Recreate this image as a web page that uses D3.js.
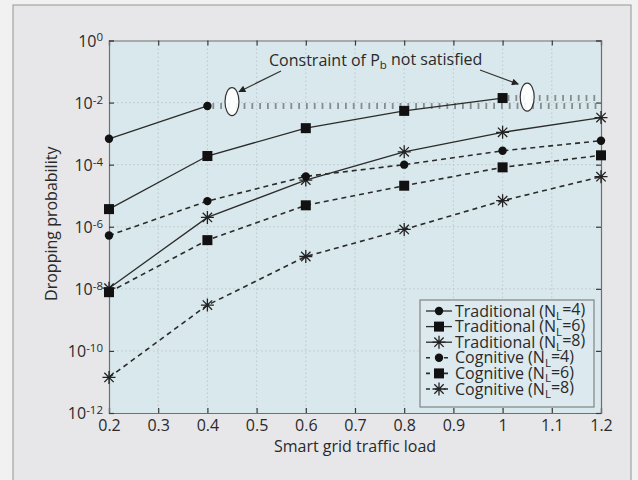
<!DOCTYPE html>
<html>
<head>
<meta charset="utf-8">
<script src="https://cdn.jsdelivr.net/npm/d3@7"></script>
<style>
  html, body { margin: 0; padding: 0; background: #f1f1f2; }
  svg { display: block; }
  text { font-family: "Open Sans", "Noto Sans", sans-serif; fill: #2a2a2a; }
</style>
</head>
<body>
<svg id="chart" width="638" height="480"></svg>
<script>
// ---------------- data ----------------
const loads = [0.2, 0.4, 0.6, 0.8, 1.0, 1.2];
const xTickValues = [0.2, 0.3, 0.4, 0.5, 0.6, 0.7, 0.8, 0.9, 1.0, 1.1, 1.2];
const xTickLabels = ["0.2", "0.3", "0.4", "0.5", "0.6", "0.7", "0.8", "0.9", "1", "1.1", "1.2"];
const yTickExponents = [0, -2, -4, -6, -8, -10, -12];

const tradNL4 = [6.8e-4, 7.8e-3, null, null, null, null];
const tradNL6 = [3.7e-6, 1.9e-4, 1.5e-3, 5.4e-3, 1.4e-2, null];
const tradNL8 = [1.05e-8, 2.0e-6, 3.2e-5, 2.6e-4, 1.1e-3, 3.3e-3];
const cogNL4 = [5.2e-7, 6.7e-6, 4.2e-5, 1.0e-4, 2.8e-4, 5.9e-4];
const cogNL6 = [7.8e-9, 3.7e-7, 4.9e-6, 2.1e-5, 8.2e-5, 2.0e-4];
const cogNL8 = [1.4e-11, 3.0e-9, 1.1e-7, 8.2e-7, 6.9e-6, 4.1e-5];

const seriesLabels = ["Traditional", "Traditional", "Traditional", "Cognitive", "Cognitive", "Cognitive"];
const seriesNL = ["4", "6", "8", "4", "6", "8"];
const seriesMarkers = ["circle", "square", "star", "circle", "square", "star"];
const seriesDashed = [false, false, false, true, true, true];
const seriesValues = [tradNL4, tradNL6, tradNL8, cogNL4, cogNL6, cogNL8];

const annotationText = "Constraint of P";
const annotationSub = "b";
const annotationTail = " not satisfied";
const ellipseLoads = [0.45, 1.05];
const ellipseValues = [1.07e-2, 1.5e-2];

const xTitle = "Smart grid traffic load";
const yTitle = "Dropping probability";

// ---------------- layout ----------------
const svg = d3.select("#chart");
const M = { left: 109, right: 601, top: 40.5, bottom: 413 };

// outer panel
svg.append("rect").attr("x", 13).attr("y", 5).attr("width", 618).attr("height", 490)
  .attr("fill", "#e7e7e9").attr("stroke", "#a4a4a6").attr("stroke-width", 1.2);

const x = d3.scaleLinear().domain([0.2, 1.2]).range([M.left, M.right]);
const y = d3.scaleLog().domain([1e-12, 1]).range([M.bottom, M.top]);

// plot background
svg.append("rect").attr("x", M.left).attr("y", M.top)
  .attr("width", M.right - M.left).attr("height", M.bottom - M.top)
  .attr("fill", "#d9e8ec");

// grid
const grid = svg.append("g");
xTickValues.slice(1, -1).forEach(v => {
  grid.append("line").attr("x1", x(v)).attr("x2", x(v)).attr("y1", M.top).attr("y2", M.bottom)
    .attr("stroke", "#b9c3c6").attr("stroke-width", 0.9).attr("stroke-dasharray", "1.5,2.5");
});
yTickExponents.slice(1, -1).forEach(e => {
  grid.append("line").attr("y1", y(Math.pow(10, e))).attr("y2", y(Math.pow(10, e))).attr("x1", M.left).attr("x2", M.right)
    .attr("stroke", "#b9c3c6").attr("stroke-width", 0.9).attr("stroke-dasharray", "1.5,2.5");
});

// axes (MATLAB style ticks inward on all sides)
const tickLen = 5;
const xAxisB = d3.axisBottom(x).tickValues(xTickValues).tickSize(-tickLen).tickPadding(7)
  .tickFormat((d, i) => xTickLabels[i]);
const gxb = svg.append("g").attr("transform", `translate(0,${M.bottom})`).call(xAxisB);
gxb.selectAll("text").attr("font-size", 16).attr("fill", "#2a2a2a");
const xAxisT = d3.axisTop(x).tickValues(xTickValues).tickSize(-tickLen).tickFormat("");
const gxt = svg.append("g").attr("transform", `translate(0,${M.top})`).call(xAxisT);

const yVals = yTickExponents.map(e => Math.pow(10, e));
const yAxisL = d3.axisLeft(y).tickValues(yVals).tickSize(-tickLen).tickPadding(8).tickFormat("");
const gyl = svg.append("g").attr("transform", `translate(${M.left},0)`).call(yAxisL);
const yAxisR = d3.axisRight(y).tickValues(yVals).tickSize(-tickLen).tickFormat("");
const gyr = svg.append("g").attr("transform", `translate(${M.right},0)`).call(yAxisR);

[gxb, gxt, gyl, gyr].forEach(g => {
  g.select(".domain").attr("stroke", "#6f6f6f").attr("stroke-width", 1.2);
  g.selectAll(".tick line").attr("stroke", "#3a3a3a").attr("stroke-width", 1.2);
});

// y tick labels as 10^e
gyl.selectAll(".tick").each(function(d) {
  const e = Math.round(Math.log10(d));
  const t = d3.select(this).append("text")
    .attr("x", -6).attr("dy", "0.35em").attr("text-anchor", "end")
    .attr("font-size", 16).attr("fill", "#2a2a2a");
  t.append("tspan").text("10");
  t.append("tspan").attr("dy", "-0.45em").attr("font-size", 11.5).text(e === 0 ? "0" : "-" + Math.abs(e));
});

// ---------------- constraint dotted extensions ----------------
const dotLayer = svg.append("g");
[tradNL4, tradNL6].forEach(vals => {
  let lastIdx = -1;
  vals.forEach((v, i) => { if (v != null) lastIdx = i; });
  dotLayer.append("line")
    .attr("x1", x(loads[lastIdx]) + 5).attr("x2", x(loads[loads.length - 1]))
    .attr("y1", y(vals[lastIdx])).attr("y2", y(vals[lastIdx]))
    .attr("stroke", "#858d90").attr("stroke-width", 6).attr("stroke-dasharray", "1.8,6");
});

// ---------------- series ----------------
const line = d3.line().defined(d => d.v != null).x(d => x(d.x)).y(d => y(d.v));
const lineColor = "#2b2b2b";

function drawMarker(g, type, cx, cy) {
  if (type === "circle") {
    g.append("circle").attr("cx", cx).attr("cy", cy).attr("r", 4.2).attr("fill", "#111");
  } else if (type === "square") {
    g.append("rect").attr("x", cx - 5).attr("y", cy - 5).attr("width", 10).attr("height", 10).attr("fill", "#111");
  } else {
    const r = 6.5;
    const p = d3.path();
    p.moveTo(cx - r, cy); p.lineTo(cx + r, cy);
    p.moveTo(cx, cy - r); p.lineTo(cx, cy + r);
    const q = r * 0.72;
    p.moveTo(cx - q, cy - q); p.lineTo(cx + q, cy + q);
    p.moveTo(cx - q, cy + q); p.lineTo(cx + q, cy - q);
    g.append("path").attr("d", p.toString()).attr("stroke", "#222").attr("stroke-width", 1.3).attr("fill", "none");
  }
}

const seriesLayer = svg.append("g");
seriesValues.forEach((vals, si) => {
  const pts = loads.map((l, i) => ({ x: l, v: vals[i] }));
  seriesLayer.append("path").datum(pts).attr("d", line)
    .attr("fill", "none").attr("stroke", lineColor)
    .attr("stroke-width", seriesDashed[si] ? 1.6 : 1.3)
    .attr("stroke-dasharray", seriesDashed[si] ? "5,4" : null);
});
seriesValues.forEach((vals, si) => {
  loads.forEach((l, i) => {
    if (vals[i] != null) drawMarker(seriesLayer, seriesMarkers[si], x(l), y(vals[i]));
  });
});

// ---------------- annotation ----------------
const ann = svg.append("g");
const at = ann.append("text").attr("x", 269).attr("y", 66).attr("font-size", 16).attr("fill", "#2a2a2a");
at.append("tspan").text(annotationText);
at.append("tspan").attr("dy", "0.3em").attr("font-size", 11.5).text(annotationSub);
at.append("tspan").attr("dy", "-0.3em").text(annotationTail);

svg.append("defs").append("marker").attr("id", "arrow").attr("viewBox", "0 0 10 10")
  .attr("refX", 9).attr("refY", 5).attr("markerWidth", 9).attr("markerHeight", 7)
  .attr("markerUnits", "userSpaceOnUse").attr("orient", "auto")
  .append("path").attr("d", "M0,0 L10,5 L0,10 z").attr("fill", "#222");

const e0 = { cx: x(ellipseLoads[0]), cy: y(ellipseValues[0]) };
const e1 = { cx: x(ellipseLoads[1]), cy: y(ellipseValues[1]) };
ann.append("line").attr("x1", 281).attr("y1", 71).attr("x2", e0.cx + 7).attr("y2", e0.cy - 10)
  .attr("stroke", "#333").attr("stroke-width", 1.2).attr("marker-end", "url(#arrow)");
ann.append("line").attr("x1", 480).attr("y1", 70).attr("x2", e1.cx - 9).attr("y2", e1.cy - 13)
  .attr("stroke", "#333").attr("stroke-width", 1.2).attr("marker-end", "url(#arrow)");
[e0, e1].forEach(e => {
  ann.append("ellipse").attr("cx", e.cx).attr("cy", e.cy).attr("rx", 7).attr("ry", 14)
    .attr("fill", "#ffffff").attr("fill-opacity", 0.9).attr("stroke", "#333").attr("stroke-width", 1.2);
});

// ---------------- legend ----------------
const lg = svg.append("g");
const LB = { x: 420, y: 300, w: 174, h: 107 };
lg.append("rect").attr("x", LB.x).attr("y", LB.y).attr("width", LB.w).attr("height", LB.h)
  .attr("fill", "#dce9ee").attr("stroke", "#7a7a7a").attr("stroke-width", 1.1);
seriesLabels.forEach((lab, i) => {
  const ry = LB.y + 11 + i * 15.6;
  const g = lg.append("g");
  g.append("line").attr("x1", 426).attr("x2", 452).attr("y1", ry).attr("y2", ry)
    .attr("stroke", lineColor).attr("stroke-width", seriesDashed[i] ? 1.6 : 1.3)
    .attr("stroke-dasharray", seriesDashed[i] ? "4,5" : null);
  drawMarker(g, seriesMarkers[i], 439, ry);
  const t = g.append("text").attr("x", 455).attr("y", ry).attr("dy", "0.35em")
    .attr("font-size", 16).attr("fill", "#2a2a2a");
  t.append("tspan").text(lab + " (N");
  t.append("tspan").attr("dy", "0.3em").attr("font-size", 11.5).text("L");
  t.append("tspan").attr("dy", "-0.3em").text("=" + seriesNL[i] + ")");
});

// ---------------- titles ----------------
svg.append("text").attr("x", (M.left + M.right) / 2).attr("y", 452).attr("text-anchor", "middle")
  .attr("font-size", 16).attr("fill", "#2a2a2a").text(xTitle);
svg.append("text").attr("transform", `translate(57,${(M.top + M.bottom) / 2 - 3}) rotate(-90)`)
  .attr("text-anchor", "middle").attr("font-size", 16).attr("fill", "#2a2a2a").text(yTitle);
</script>
</body>
</html>
